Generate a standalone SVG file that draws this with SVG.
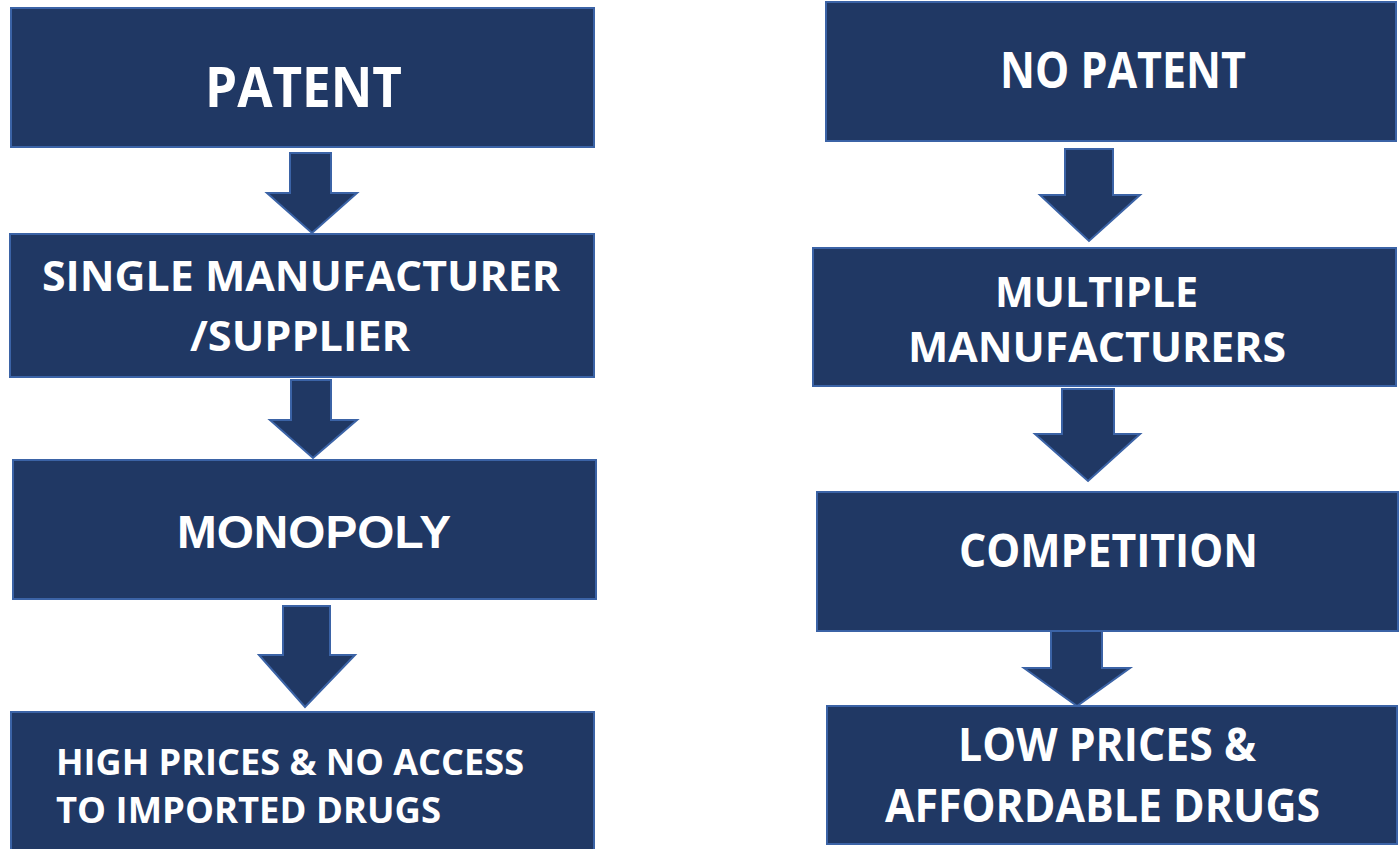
<svg xmlns="http://www.w3.org/2000/svg" width="1399" height="849" viewBox="0 0 1399 849">
  <style>
    .box { fill: #203864; stroke: #3b63a6; stroke-width: 2; }
    .arrow { fill: #203864; stroke: #3b63a6; stroke-width: 2; stroke-linejoin: miter; }
    .lbl { fill: #ffffff; font-family: "Open Sans", "Noto Sans", "Liberation Sans", sans-serif; font-weight: 700; }
    .lbl-a { fill: #ffffff; font-family: "Liberation Sans", Arial, sans-serif; font-weight: 700; }
  </style>
  <rect width="1399" height="849" fill="#ffffff"/>

  <!-- connectors: block arrows between stages -->
  <g id="connectors">
    <polygon class="arrow" points="290,153 331,153 331,193 357,193 312,233 267,193 290,193"/>
    <polygon class="arrow" points="291,380 331,380 331,420 357,420 313,458 270,420 291,420"/>
    <polygon class="arrow" points="283,606 330,606 330,655 355,655 305,707 259,655 283,655"/>
    <polygon class="arrow" points="1065,149 1113,149 1113,195 1140,195 1089,241 1040,195 1065,195"/>
    <polygon class="arrow" points="1062,389 1114,389 1114,434 1140,434 1088,481 1035,434 1062,434"/>
    <polygon class="arrow" points="1051,631 1102,631 1102,668 1130,668 1077,706 1024,668 1051,668"/>
  </g>

  <!-- left column -->
  <g id="patent">
    <rect class="box" x="11" y="8" width="583" height="139"/>
    <text class="lbl" x="205" y="107" font-size="56" textLength="197" lengthAdjust="spacingAndGlyphs">PATENT</text>
  </g>
  <g id="single-manufacturer">
    <rect class="box" x="10" y="234" width="584" height="143"/>
    <text class="lbl" x="42" y="291" font-size="42" textLength="518" lengthAdjust="spacingAndGlyphs">SINGLE MANUFACTURER</text>
    <text class="lbl" x="190" y="351" font-size="42" textLength="220" lengthAdjust="spacingAndGlyphs">/SUPPLIER</text>
  </g>
  <g id="monopoly">
    <rect class="box" x="13" y="460" width="583" height="139"/>
    <text class="lbl-a" x="177" y="548" font-size="46" textLength="274" lengthAdjust="spacingAndGlyphs">MONOPOLY</text>
  </g>
  <g id="high-prices">
    <rect class="box" x="11" y="712" width="583" height="145"/>
    <text class="lbl" x="56" y="775" font-size="35" textLength="468" lengthAdjust="spacingAndGlyphs">HIGH PRICES &amp; NO ACCESS</text>
    <text class="lbl" x="56" y="823" font-size="35" textLength="385" lengthAdjust="spacingAndGlyphs">TO IMPORTED DRUGS</text>
  </g>

  <!-- right column -->
  <g id="no-patent">
    <rect class="box" x="826" y="2" width="570" height="139"/>
    <text class="lbl" x="1000" y="88" font-size="50" textLength="246" lengthAdjust="spacingAndGlyphs">NO PATENT</text>
  </g>
  <g id="multiple-manufacturers">
    <rect class="box" x="813" y="248" width="583" height="138"/>
    <text class="lbl" x="995" y="307" font-size="42" textLength="203" lengthAdjust="spacingAndGlyphs">MULTIPLE</text>
    <text class="lbl" x="908" y="362" font-size="42" textLength="378" lengthAdjust="spacingAndGlyphs">MANUFACTURERS</text>
  </g>
  <g id="competition">
    <rect class="box" x="817" y="492" width="581" height="139"/>
    <text class="lbl" x="959" y="567" font-size="46" textLength="299" lengthAdjust="spacingAndGlyphs">COMPETITION</text>
  </g>
  <g id="low-prices">
    <rect class="box" x="827" y="706" width="570" height="138"/>
    <text class="lbl" x="958" y="761" font-size="46" textLength="298" lengthAdjust="spacingAndGlyphs">LOW PRICES &amp;</text>
    <text class="lbl" x="885" y="822" font-size="46" textLength="435" lengthAdjust="spacingAndGlyphs">AFFORDABLE DRUGS</text>
  </g>
</svg>
